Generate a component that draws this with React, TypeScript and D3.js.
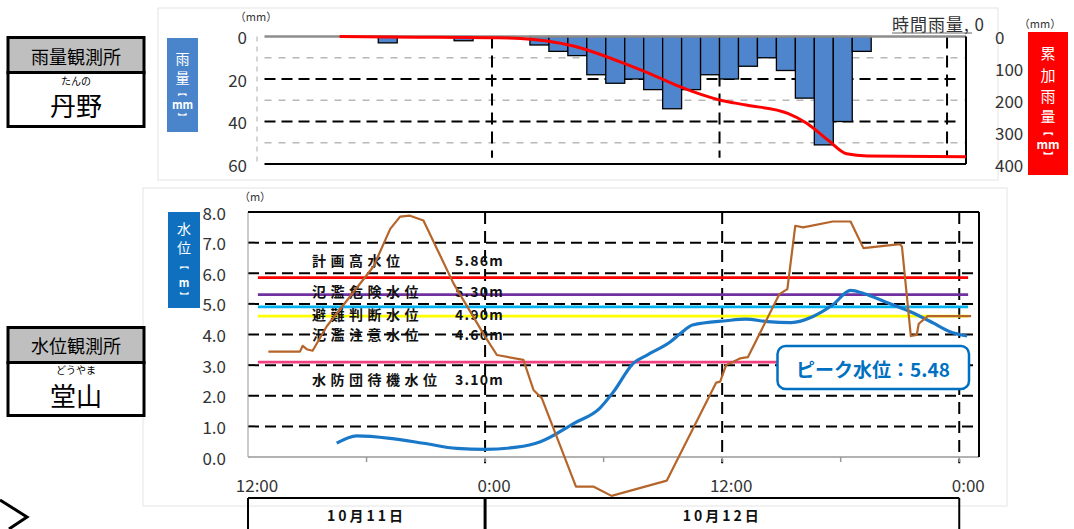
import React from 'react';
import * as d3 from 'd3';

// ---- data (hours are offsets from 2019-10-11 12:00) ----
const rainHourly = [0, 0, 0, 0, 0, 0, 3, 0, 0, 0, 2, 0, 0, 0, 4, 7, 9, 18, 22, 20, 25, 34, 25, 18, 20, 14, 10, 16, 29, 51, 40, 7, 0, 0, 0, 0, 0];
const cumHours = [3.96, 8, 12, 13.5, 14.9, 16.3, 17.3, 19.2, 20.5, 21.8, 22.6, 24.0, 25.4, 27.6, 28.6, 29.7, 30.7, 31.8, 37];
const cumValues = [0, 2, 4, 6, 14, 30, 48, 90, 121, 155, 173, 199, 215, 241, 272, 324, 368, 375, 377];

const levelHours = [4.49, 5.5, 7.19, 8.88, 10.57, 12.0, 13.6, 14.8, 16.5, 17.8, 18.5, 19.5, 20.2, 21.4, 21.9, 22.5, 24.2, 25.2, 26.3, 27.5, 28.6, 29.6, 30.5, 31.2, 32.2, 33.5, 34.7, 35.5, 36.4];
const levelValues = [0.45, 0.69, 0.61, 0.45, 0.28, 0.25, 0.32, 0.5, 1.1, 1.59, 2.13, 3.06, 3.33, 3.77, 4.04, 4.31, 4.45, 4.5, 4.42, 4.39, 4.59, 4.97, 5.44, 5.33, 5.08, 4.75, 4.37, 4.1, 3.95];

const brownHours = [1.03, 2.63, 2.77, 2.97, 3.27, 3.98, 6.35, 7.2, 7.7, 8.2, 8.88, 10.4, 12.0, 12.6, 13.94, 14.45, 14.87, 16.6, 17.5, 18.4, 21.2, 23.7, 23.9, 24.2, 24.9, 25.3, 26.9, 27.3, 27.7, 28.1, 29.6, 30.5, 31.15, 33.0, 33.1, 33.55, 33.85, 33.95, 34.4, 36.6];
const brownValues = [3.44, 3.44, 3.63, 3.52, 3.47, 4.26, 6.22, 7.45, 7.85, 7.88, 7.72, 5.67, 3.93, 3.33, 3.17, 2.19, 1.92, -0.97, -0.97, -1.27, -0.77, 2.43, 2.46, 3.0, 3.22, 3.26, 5.32, 5.48, 7.55, 7.5, 7.69, 7.69, 6.82, 6.95, 6.87, 3.95, 3.99, 4.35, 4.6, 4.6];

const thresholdNames = ['計画高水位', '氾濫危険水位', '避難判断水位', '氾濫注意水位', '水防団待機水位'];
const thresholdValues = [5.86, 5.30, 4.90, 4.60, 3.10];
const thresholdLabels = ['5.86m', '5.30m', '4.90m', '4.60m', '3.10m'];
const thresholdColors = ['#ff0000', '#7030a0', '#00b0f0', '#ffff00', '#f0407f'];
const thresholdLabelY = [260, 290.5, 313.5, 334, 379];

const rainTicks = [0, 20, 40, 60];
const rainMinorGrid = [10, 30, 50];
const cumTicks = [0, 100, 200, 300, 400];
const levelTicks = [0, 1, 2, 3, 4, 5, 6, 7, 8];
const timeTickHours = [0, 12, 24, 36];
const timeTickLabels = ['12:00', '0:00', '12:00', '0:00'];
const minorTickHours = [6, 12, 18, 24, 30, 36];
const dateLabels = ['10月11日', '10月12日'];
const dateSpans = [[0, 12], [12, 36]];
const peakLabel = 'ピーク水位：5.48';

const FONT = "'Noto Sans CJK JP', 'Noto Sans', sans-serif";

type VItem = { t: string; y: number; kind: 'char' | 'unit' | 'open' | 'close' };

export default function App() {
  // scales
  const xTop = d3.scaleLinear().domain([0, 37]).range([264.5, 966]);
  const yRain = d3.scaleLinear().domain([0, 60]).range([36.5, 164]);
  const yCum = d3.scaleLinear().domain([0, 400]).range([36.5, 164]);
  const xBot = d3.scaleLinear().domain([0, 37]).range([248, 979]);
  const yLev = d3.scaleLinear().domain([0, 8]).range([457, 212]);

  const cumLine = d3.line<number>().x((d, i) => xTop(cumHours[i])).y((d) => yCum(d)).curve(d3.curveMonotoneX);
  const blueLine = d3.line<number>().x((d, i) => xBot(levelHours[i])).y((d) => yLev(d)).curve(d3.curveMonotoneX);
  const brownLine = d3.line<number>().x((d, i) => xBot(brownHours[i])).y((d) => yLev(d));

  const vText = (items: VItem[], cx: number, size: number) =>
    items.map((it, i) => {
      if (it.kind === 'open' || it.kind === 'close') {
        return (
          <text key={i} x={cx} y={it.y} fill="#fff" fontSize={size - 5} fontWeight={700}
            textAnchor="middle" dominantBaseline="central" transform={`rotate(90 ${cx} ${it.y})`}>{it.t}</text>
        );
      }
      return (
        <text key={i} x={cx} y={it.y} fill="#fff" fontSize={it.kind === 'unit' ? size - 3 : size} fontWeight={it.kind === 'unit' ? 700 : 400}
          textAnchor="middle" dominantBaseline="central">{it.t}</text>
      );
    });

  return (
    <svg width={1074} height={529} style={{ position: 'absolute', left: 0, top: 0, background: '#fff' }} fontFamily={FONT}>
      {/* panels */}
      <rect x={158} y={8} width={840} height={172} fill="none" stroke="#e4e4e4" strokeWidth={1} />
      <rect x={143} y={188} width={864} height={318} fill="none" stroke="#e4e4e4" strokeWidth={1} />

      {/* station boxes */}
      <g>
        <rect x={8} y={37.5} width={136} height={35} fill="#bfbfbf" stroke="#000" strokeWidth={3} />
        <rect x={8} y={72.5} width={136} height={54} fill="#fff" stroke="#000" strokeWidth={3} />
        <text x={76} y={56} fontSize={18} textAnchor="middle" dominantBaseline="central">雨量観測所</text>
        <text x={76} y={80} fontSize={10} textAnchor="middle" dominantBaseline="central">たんの</text>
        <text x={76} y={104} fontSize={26} textAnchor="middle" dominantBaseline="central">丹野</text>

        <rect x={8} y={327.5} width={136} height={35} fill="#bfbfbf" stroke="#000" strokeWidth={3} />
        <rect x={8} y={362.5} width={136} height={53} fill="#fff" stroke="#000" strokeWidth={3} />
        <text x={76} y={345} fontSize={18} textAnchor="middle" dominantBaseline="central">水位観測所</text>
        <text x={76} y={369.5} fontSize={10} textAnchor="middle" dominantBaseline="central">どうやま</text>
        <text x={76} y={394} fontSize={26} textAnchor="middle" dominantBaseline="central">堂山</text>
      </g>
      <polyline points="0,500 27,517 9,529" fill="none" stroke="#000" strokeWidth={3} />

      {/* ===== rain chart ===== */}
      <rect x={167} y={38} width={31} height={94} fill="#4a85cc" />
      {vText([
        { t: '雨', y: 58, kind: 'char' }, { t: '量', y: 77, kind: 'char' }, { t: '【', y: 92, kind: 'open' },
        { t: 'mm', y: 104, kind: 'unit' }, { t: '】', y: 117, kind: 'close' },
      ], 182.5, 14)}
      <rect x={1028} y={32} width={40} height={143} fill="#ff0000" />
      {vText([
        { t: '累', y: 52, kind: 'char' }, { t: '加', y: 74, kind: 'char' }, { t: '雨', y: 95, kind: 'char' },
        { t: '量', y: 115, kind: 'char' }, { t: '【', y: 131, kind: 'open' }, { t: 'mm', y: 143, kind: 'unit' },
        { t: '】', y: 156, kind: 'close' },
      ], 1048, 15)}

      <text x={256} y={16} fontSize={11} textAnchor="middle" dominantBaseline="central" fill="#333">（mm）</text>
      <text x={1040} y={23} fontSize={11} textAnchor="middle" dominantBaseline="central" fill="#333">（mm）</text>

      {rainMinorGrid.map((v) => (
        <line key={v} x1={xTop(0)} x2={xTop(37)} y1={yRain(v)} y2={yRain(v)} stroke="#b8b8b8" strokeWidth={1.5} strokeDasharray="7,7" />
      ))}
      {rainTicks.filter((v) => v > 0 && v < 60).map((v) => (
        <line key={v} x1={xTop(0)} x2={xTop(36.7)} y1={yRain(v)} y2={yRain(v)} stroke="#000" strokeWidth={2} strokeDasharray="11,6" />
      ))}
      {[12, 24, 36].map((h) => (
        <line key={h} x1={xTop(h)} x2={xTop(h)} y1={yRain(0)} y2={yRain(57)} stroke="#000" strokeWidth={2} strokeDasharray="12,7" />
      ))}
      <line x1={257} x2={257} y1={yRain(0)} y2={yRain(60)} stroke="#aaa" strokeWidth={1} strokeDasharray="5,5" />

      {rainHourly.map((v, i) => v > 0 ? (
        <rect key={i} x={xTop(i)} y={yRain(0)} width={xTop(i + 1) - xTop(i)} height={yRain(v) - yRain(0)}
          fill="#4f85cc" stroke="#000" strokeWidth={1.3} />
      ) : null)}

      <line x1={xTop(0)} x2={xTop(37)} y1={yRain(0)} y2={yRain(0)} stroke="#8c8c8c" strokeWidth={2.5} />
      <line x1={xTop(0)} x2={xTop(37)} y1={yRain(60)} y2={yRain(60)} stroke="#000" strokeWidth={2} />
      <line x1={xTop(37)} x2={xTop(37)} y1={yRain(0)} y2={yRain(60)} stroke="#000" strokeWidth={2} />

      <path d={cumLine(cumValues) || ''} fill="none" stroke="#ff0000" strokeWidth={3} />

      {rainTicks.map((v) => (
        <text key={v} x={247} y={yRain(v)} fontSize={17} textAnchor="end" dominantBaseline="central" fill="#333">{v}</text>
      ))}
      {cumTicks.map((v) => (
        <text key={v} x={995} y={yCum(v)} fontSize={17} textAnchor="start" dominantBaseline="central" fill="#333">{v}</text>
      ))}
      <text x={892} y={23} fontSize={17} dominantBaseline="central" fill="#333" letterSpacing={1}>時間雨量, 0</text>
      <line x1={892} x2={972} y1={33} y2={33} stroke="#666" strokeWidth={1} />

      {/* ===== water level chart ===== */}
      <rect x={168} y={212} width={32} height={96} fill="#1070c0" />
      {vText([
        { t: '水', y: 228, kind: 'char' }, { t: '位', y: 247, kind: 'char' }, { t: '【', y: 265, kind: 'open' },
        { t: 'm', y: 282, kind: 'unit' }, { t: '】', y: 296, kind: 'close' },
      ], 184, 14)}
      <text x={255} y={196} fontSize={11} textAnchor="middle" dominantBaseline="central" fill="#333">（m）</text>

      {levelTicks.filter((v) => v > 0 && v < 8).map((v) => (
        <line key={v} x1={xBot(0)} x2={xBot(37)} y1={yLev(v)} y2={yLev(v)} stroke="#000" strokeWidth={2} strokeDasharray="11,6" />
      ))}
      {[12, 24, 36].map((h) => (
        <line key={h} x1={xBot(h)} x2={xBot(h)} y1={yLev(8)} y2={yLev(-0.2)} stroke="#000" strokeWidth={2} strokeDasharray="12,7" />
      ))}
      <line x1={xBot(0)} x2={xBot(0)} y1={yLev(8)} y2={yLev(0)} stroke="#999" strokeWidth={1} />
      <line x1={xBot(0)} x2={xBot(37)} y1={yLev(0)} y2={yLev(0)} stroke="#999" strokeWidth={1.5} />
      {minorTickHours.map((h) => (
        <line key={h} x1={xBot(h)} x2={xBot(h)} y1={yLev(0)} y2={yLev(0) + 5} stroke="#999" strokeWidth={1.5} />
      ))}
      <line x1={xBot(0)} x2={xBot(37)} y1={yLev(8)} y2={yLev(8)} stroke="#000" strokeWidth={2} />
      <line x1={xBot(37)} x2={xBot(37)} y1={yLev(8)} y2={yLev(0)} stroke="#000" strokeWidth={2} />

      {thresholdValues.map((v, i) => (
        <line key={i} x1={xBot(0.5)} x2={xBot(36.45)} y1={yLev(v)} y2={yLev(v)} stroke={thresholdColors[i]} strokeWidth={2.8} />
      ))}
      {thresholdNames.map((n, i) => (
        <g key={i}>
          <text x={312} y={thresholdLabelY[i]} fontSize={14} fontWeight={700} letterSpacing={4.5} dominantBaseline="central" fill="#111">{n}</text>
          <text x={455} y={thresholdLabelY[i]} fontSize={14} fontWeight={700} letterSpacing={1.2} dominantBaseline="central" fill="#111">{thresholdLabels[i]}</text>
        </g>
      ))}

      <path d={blueLine(levelValues) || ''} fill="none" stroke="#1a78c8" strokeWidth={3.2} />
      <path d={brownLine(brownValues) || ''} fill="none" stroke="#b5652a" strokeWidth={2.2} strokeLinejoin="round" />

      {levelTicks.map((v) => (
        <text key={v} x={226} y={yLev(v)} fontSize={17} textAnchor="end" dominantBaseline="central" fill="#333">{v.toFixed(1)}</text>
      ))}
      {timeTickHours.map((h, i) => (
        <text key={i} x={xBot(h) + 9} y={484} fontSize={17} textAnchor="middle" dominantBaseline="central" fill="#333">{timeTickLabels[i]}</text>
      ))}

      {/* peak callout */}
      <rect x={777.5} y={346} width={191.5} height={43} rx={8} fill="#fff" stroke="#0070c0" strokeWidth={2.5} />
      <text x={873} y={368} fontSize={19} fontWeight={700} textAnchor="middle" dominantBaseline="central" fill="#0070c0">{peakLabel}</text>

      {/* date row */}
      <line x1={xBot(0)} x2={xBot(36)} y1={498} y2={498} stroke="#000" strokeWidth={2} />
      <line x1={xBot(0)} x2={xBot(0)} y1={498} y2={529} stroke="#000" strokeWidth={2} />
      <line x1={xBot(12)} x2={xBot(12)} y1={498} y2={529} stroke="#000" strokeWidth={3} />
      <line x1={xBot(36)} x2={xBot(36)} y1={498} y2={529} stroke="#000" strokeWidth={2} />
      {dateLabels.map((d, i) => (
        <text key={i} x={(xBot(dateSpans[i][0]) + xBot(dateSpans[i][1])) / 2} y={515} fontSize={14} fontWeight={700}
          letterSpacing={3} textAnchor="middle" dominantBaseline="central" fill="#111">{d}</text>
      ))}
    </svg>
  );
}
